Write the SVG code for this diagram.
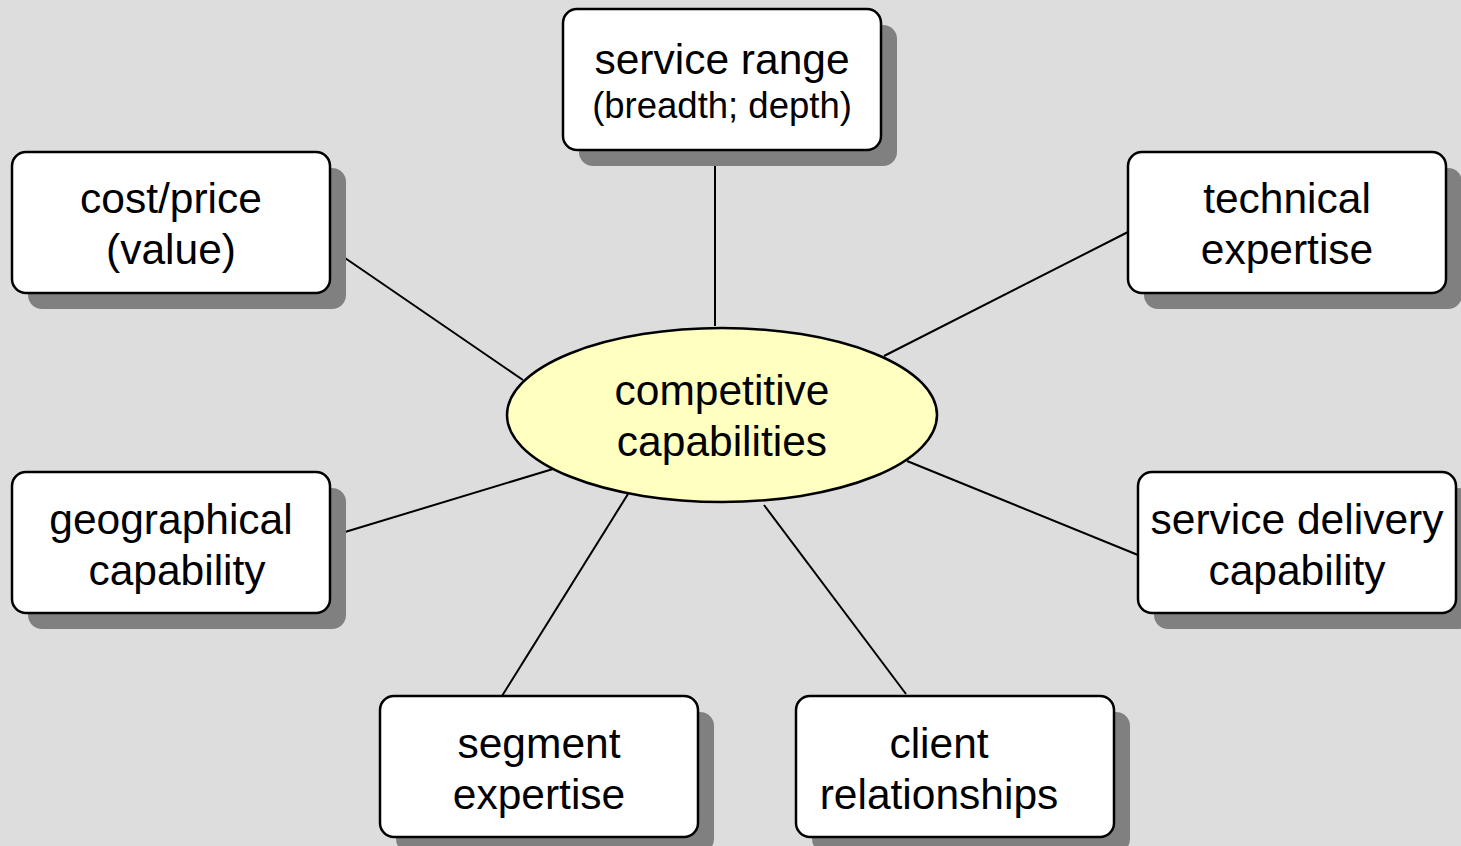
<svg xmlns="http://www.w3.org/2000/svg" width="1461" height="846" viewBox="0 0 1461 846">
  <style>
    .bg { fill: #dddddd; }
    .shadow { fill: #808080; }
    .box { fill: #ffffff; stroke: #000000; stroke-width: 2.5; }
    .hub { fill: #ffffc0; stroke: #000000; stroke-width: 2.5; }
    .link { stroke: #000000; stroke-width: 2; fill: none; }
    text { font-family: "Liberation Sans", Arial, sans-serif; font-size: 42.5px; fill: #000000; text-anchor: middle; }
    .small { font-size: 36.5px; }
  </style>
  <rect class="bg" x="0" y="0" width="1461" height="846"/>

  <g id="connectors">
    <line class="link" x1="715" y1="165" x2="715" y2="326"/>
    <line class="link" x1="345" y1="258" x2="523" y2="380"/>
    <line class="link" x1="1128" y1="232" x2="884" y2="356"/>
    <line class="link" x1="345" y1="532" x2="553" y2="469"/>
    <line class="link" x1="1138" y1="555" x2="907" y2="461"/>
    <line class="link" x1="502" y1="696" x2="628" y2="494"/>
    <line class="link" x1="906" y1="694" x2="764" y2="505"/>
  </g>

  <g id="service-range">
    <rect class="shadow" x="579" y="25" width="318" height="141" rx="14"/>
    <rect class="box" x="563" y="9" width="318" height="141" rx="14"/>
    <text x="722" y="74">service range</text>
    <text class="small" x="722" y="118">(breadth; depth)</text>
  </g>

  <g id="cost-price">
    <rect class="shadow" x="28" y="168" width="318" height="141" rx="14"/>
    <rect class="box" x="12" y="152" width="318" height="141" rx="14"/>
    <text x="171" y="213">cost/price</text>
    <text x="171" y="264">(value)</text>
  </g>

  <g id="technical-expertise">
    <rect class="shadow" x="1144" y="168" width="318" height="141" rx="14"/>
    <rect class="box" x="1128" y="152" width="318" height="141" rx="14"/>
    <text x="1287" y="213">technical</text>
    <text x="1287" y="264">expertise</text>
  </g>

  <g id="geographical-capability">
    <rect class="shadow" x="28" y="488" width="318" height="141" rx="14"/>
    <rect class="box" x="12" y="472" width="318" height="141" rx="14"/>
    <text x="171" y="534">geographical</text>
    <text x="177" y="585">capability</text>
  </g>

  <g id="service-delivery-capability">
    <rect class="shadow" x="1154" y="488" width="318" height="141" rx="14"/>
    <rect class="box" x="1138" y="472" width="318" height="141" rx="14"/>
    <text x="1297" y="534">service delivery</text>
    <text x="1297" y="585">capability</text>
  </g>

  <g id="segment-expertise">
    <rect class="shadow" x="396" y="712" width="318" height="141" rx="14"/>
    <rect class="box" x="380" y="696" width="318" height="141" rx="14"/>
    <text x="539" y="758">segment</text>
    <text x="539" y="809">expertise</text>
  </g>

  <g id="client-relationships">
    <rect class="shadow" x="812" y="712" width="318" height="141" rx="14"/>
    <rect class="box" x="796" y="696" width="318" height="141" rx="14"/>
    <text x="939" y="758">client</text>
    <text x="939" y="809">relationships</text>
  </g>

  <g id="competitive-capabilities">
    <ellipse class="hub" cx="722" cy="415" rx="215" ry="87"/>
    <text x="722" y="405">competitive</text>
    <text x="722" y="456">capabilities</text>
  </g>
</svg>
